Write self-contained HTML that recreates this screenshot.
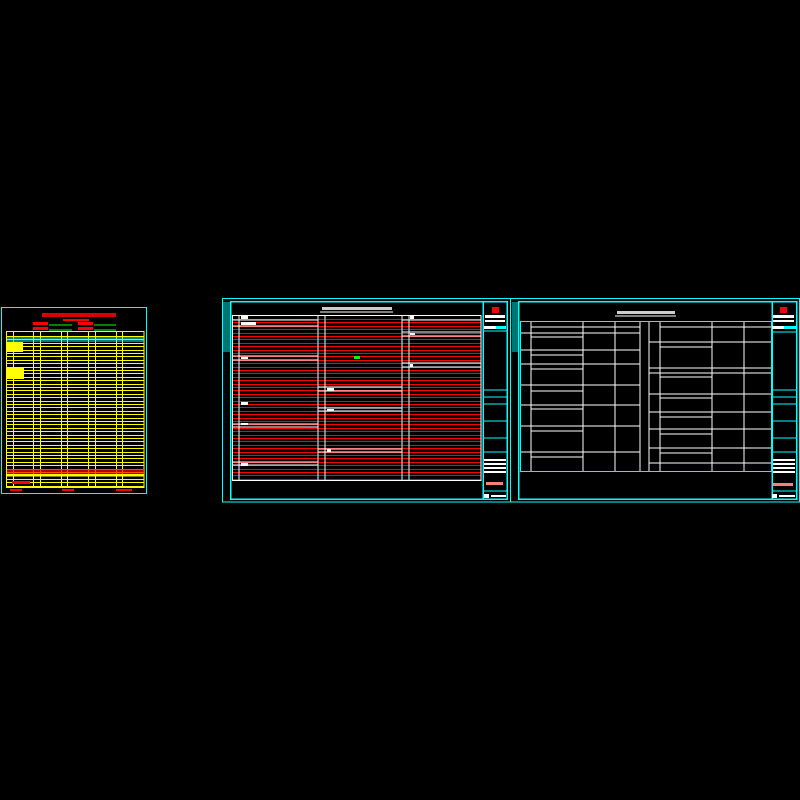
<!DOCTYPE html>
<html><head><meta charset="utf-8"><style>html,body{margin:0;padding:0;background:#000;}svg{display:block}</style></head>
<body>
<svg width="800" height="800" viewBox="0 0 800 800" xmlns="http://www.w3.org/2000/svg" shape-rendering="crispEdges">
<rect width="800" height="800" fill="#000"/>
<!-- LEFT SHEET -->
<rect x="1.5" y="307.5" width="145" height="186" fill="none" stroke="#00ffff" stroke-width="1"/>
<g fill="#ff0000">
<rect x="42" y="313" width="74" height="4" opacity="0.85"/>
<rect x="63" y="319" width="26" height="2"/>
<rect x="33" y="322" width="15" height="3"/><rect x="33" y="327" width="15" height="3"/>
<rect x="78" y="322" width="15" height="3"/><rect x="78" y="327" width="15" height="3"/>
</g>
<g stroke="#00ff00" stroke-width="0.7"><line x1="49" y1="325" x2="72" y2="325"/><line x1="49" y1="330" x2="72" y2="330"/><line x1="94" y1="325" x2="116" y2="325"/><line x1="94" y1="330" x2="116" y2="330"/></g>
<rect x="6.5" y="331.5" width="137.5" height="156" fill="none" stroke="#ffff00" stroke-width="1.2"/>
<g stroke="#ffff00" stroke-width="1" id="ylines"></g>
<rect x="7" y="337" width="137" height="5" fill="#00ffff" opacity="0.5"/>
<g fill="#ffff00"><rect x="7" y="342" width="16" height="10"/><rect x="7" y="367" width="17" height="12"/><rect x="7" y="474" width="137" height="2.5"/></g>
<rect x="7" y="469" width="137" height="5" fill="#ff0000" opacity="0.7"/>
<g fill="#ff0000"><rect x="12" y="481" width="18" height="3"/><rect x="10" y="489" width="12" height="2"/><rect x="62" y="489" width="12" height="2"/><rect x="116" y="489" width="16" height="2"/></g>
<!-- MIDDLE SHEET -->
<rect x="222.5" y="298.5" width="288" height="203.5" fill="none" stroke="#00ffff" stroke-width="1"/>
<rect x="230.5" y="301.5" width="276.5" height="197.5" fill="none" stroke="#00ffff" stroke-width="1.5"/>
<line x1="483" y1="301" x2="483" y2="499" stroke="#00ffff" stroke-width="1.5"/>
<rect x="223" y="302" width="7" height="50" fill="#00ffff" opacity="0.45"/>
<g fill="#fff"><rect x="322" y="307" width="70" height="3" opacity="0.8"/></g>
<line x1="320" y1="312" x2="393" y2="312" stroke="#fff" stroke-width="0.6"/>
<g id="redlines" stroke="#ff0000" stroke-width="1"></g>
<rect x="232.5" y="315.5" width="248.5" height="165" fill="none" stroke="#fff" stroke-width="0.8"/>
<g stroke="#fff" stroke-width="0.8">
<line x1="239" y1="315" x2="239" y2="481"/><line x1="318" y1="315" x2="318" y2="481" stroke-width="1.4"/><line x1="325" y1="315" x2="325" y2="481"/><line x1="402" y1="315" x2="402" y2="481"/><line x1="409" y1="315" x2="409" y2="481"/>
<line x1="232" y1="320" x2="318" y2="320"/><line x1="232" y1="326" x2="318" y2="326"/><line x1="402" y1="320" x2="481" y2="320"/>
<line x1="232" y1="356" x2="318" y2="356"/><line x1="232" y1="360" x2="318" y2="360"/>
<line x1="402" y1="332" x2="481" y2="332"/><line x1="402" y1="336" x2="481" y2="336"/>
<line x1="402" y1="363" x2="481" y2="363"/><line x1="402" y1="367" x2="481" y2="367"/>
<line x1="318" y1="387" x2="402" y2="387"/><line x1="318" y1="391" x2="402" y2="391"/>
<line x1="318" y1="408" x2="402" y2="408"/><line x1="318" y1="411" x2="402" y2="411"/>
<line x1="232" y1="424" x2="318" y2="424"/><line x1="232" y1="427" x2="318" y2="427"/>
<line x1="318" y1="449" x2="402" y2="449"/><line x1="318" y1="452" x2="402" y2="452"/>
<line x1="232" y1="462" x2="318" y2="462"/><line x1="232" y1="465" x2="318" y2="465"/>
</g>
<g fill="#fff"><rect x="241" y="316" width="7" height="3"/><rect x="241" y="322" width="15" height="3"/><rect x="241" y="357" width="7" height="2"/><rect x="241" y="402" width="7" height="3"/><rect x="241" y="423" width="7" height="2"/><rect x="241" y="463" width="7" height="3"/><rect x="410" y="316" width="4" height="3"/><rect x="410" y="333" width="5" height="2"/><rect x="410" y="364" width="3" height="3"/><rect x="327" y="388" width="7" height="3"/><rect x="327" y="409" width="7" height="2"/><rect x="327" y="449" width="4" height="3"/></g>
<rect x="354" y="356" width="6" height="3" fill="#00ff00"/>
<!-- middle title block -->
<rect x="492" y="307" width="7" height="6" fill="#ff0000"/>
<g fill="#fff"><rect x="485" y="315" width="20" height="3"/><rect x="485" y="320" width="20" height="2"/><rect x="484" y="326" width="12" height="3"/>
<rect x="484" y="459" width="22" height="2"/><rect x="484" y="463" width="22" height="2"/><rect x="484" y="467" width="22" height="2"/><rect x="484" y="471" width="22" height="2"/>
<rect x="484" y="494" width="5" height="4"/><rect x="491" y="495" width="15" height="2"/></g>
<rect x="496" y="326" width="10" height="3" fill="#00ffff"/>
<rect x="486" y="482" width="17" height="3" fill="#fa8072"/>
<g stroke="#00ffff" stroke-width="0.8"><line x1="483" y1="331" x2="507" y2="331"/><line x1="483" y1="390" x2="507" y2="390"/><line x1="483" y1="397" x2="507" y2="397"/><line x1="483" y1="404" x2="507" y2="404"/><line x1="483" y1="421" x2="507" y2="421"/><line x1="483" y1="438" x2="507" y2="438"/><line x1="483" y1="452" x2="507" y2="452"/><line x1="483" y1="491" x2="507" y2="491"/></g>
<!-- RIGHT SHEET -->
<rect x="510.5" y="298.5" width="289" height="203.5" fill="none" stroke="#00ffff" stroke-width="1"/>
<rect x="518.5" y="301.5" width="278" height="197.5" fill="none" stroke="#00ffff" stroke-width="1.5"/>
<line x1="772" y1="301" x2="772" y2="499" stroke="#00ffff" stroke-width="1.5"/>
<rect x="512" y="302" width="7" height="50" fill="#00ffff" opacity="0.45"/>
<rect x="617" y="311" width="58" height="3" fill="#fff" opacity="0.8"/>
<line x1="615" y1="316" x2="676" y2="316" stroke="#fff" stroke-width="0.6"/>
<rect x="520.5" y="321.5" width="251" height="150" fill="none" stroke="#00ffff" stroke-width="1"/>
<g stroke="#fff" stroke-width="0.8">
<line x1="531" y1="322" x2="531" y2="471"/><line x1="583" y1="322" x2="583" y2="471"/><line x1="615" y1="322" x2="615" y2="471"/><line x1="640" y1="322" x2="640" y2="471"/><line x1="649" y1="322" x2="649" y2="471"/><line x1="660" y1="322" x2="660" y2="471"/><line x1="712" y1="322" x2="712" y2="471"/><line x1="744" y1="322" x2="744" y2="471"/>
<line x1="531" y1="327" x2="640" y2="327"/><line x1="521" y1="333" x2="640" y2="333"/><line x1="531" y1="337" x2="583" y2="337"/><line x1="521" y1="350" x2="640" y2="350"/><line x1="531" y1="355" x2="583" y2="355"/><line x1="521" y1="364" x2="640" y2="364"/><line x1="531" y1="369" x2="583" y2="369"/><line x1="521" y1="385" x2="640" y2="385"/><line x1="531" y1="391" x2="583" y2="391"/><line x1="521" y1="405" x2="640" y2="405"/><line x1="531" y1="409" x2="583" y2="409"/><line x1="521" y1="426" x2="640" y2="426"/><line x1="531" y1="431" x2="583" y2="431"/><line x1="521" y1="452" x2="640" y2="452"/><line x1="531" y1="457" x2="583" y2="457"/>
<line x1="660" y1="327" x2="771" y2="327"/><line x1="649" y1="342" x2="771" y2="342"/><line x1="660" y1="347" x2="712" y2="347"/><line x1="649" y1="368" x2="771" y2="368"/><line x1="649" y1="373" x2="771" y2="373"/><line x1="660" y1="377" x2="712" y2="377"/><line x1="649" y1="394" x2="771" y2="394"/><line x1="660" y1="398" x2="712" y2="398"/><line x1="649" y1="412" x2="771" y2="412"/><line x1="660" y1="417" x2="712" y2="417"/><line x1="649" y1="429" x2="771" y2="429"/><line x1="660" y1="434" x2="712" y2="434"/><line x1="649" y1="448" x2="771" y2="448"/><line x1="660" y1="453" x2="712" y2="453"/><line x1="649" y1="463" x2="771" y2="463"/>
</g>
<rect x="780" y="307" width="7" height="6" fill="#ff0000"/>
<g fill="#fff"><rect x="773" y="315" width="21" height="3"/><rect x="773" y="320" width="21" height="2"/><rect x="772" y="326" width="12" height="3"/>
<rect x="773" y="459" width="22" height="2"/><rect x="773" y="463" width="22" height="2"/><rect x="773" y="467" width="22" height="2"/><rect x="773" y="471" width="22" height="2"/>
<rect x="772" y="494" width="5" height="4"/><rect x="779" y="495" width="16" height="2"/></g>
<rect x="784" y="326" width="12" height="3" fill="#00ffff"/>
<rect x="773" y="483" width="20" height="3" fill="#fa8072"/>
<g stroke="#00ffff" stroke-width="0.8"><line x1="772" y1="332" x2="796" y2="332"/><line x1="772" y1="390" x2="796" y2="390"/><line x1="772" y1="397" x2="796" y2="397"/><line x1="772" y1="404" x2="796" y2="404"/><line x1="772" y1="421" x2="796" y2="421"/><line x1="772" y1="438" x2="796" y2="438"/><line x1="772" y1="452" x2="796" y2="452"/><line x1="772" y1="491" x2="796" y2="491"/></g>
</svg>
<script>
(function(){
var ns="http://www.w3.org/2000/svg";
var y=document.getElementById("ylines");
var xs=[13,33,40,61,67,88,95,116,122];
xs.forEach(function(x){var l=document.createElementNS(ns,"line");l.setAttribute("x1",x+0.5);l.setAttribute("x2",x+0.5);l.setAttribute("y1",332);l.setAttribute("y2",487);y.appendChild(l);});
for(var v=336;v<=486;v+=3.4){var p=Math.round(v)+0.5;var l=document.createElementNS(ns,"line");l.setAttribute("x1",7);l.setAttribute("x2",144);l.setAttribute("y1",p);l.setAttribute("y2",p);y.appendChild(l);}
var r=document.getElementById("redlines");
for(var v=319;v<=479;v+=3.4){var p=Math.round(v)+0.5;var l=document.createElementNS(ns,"line");l.setAttribute("x1",233);l.setAttribute("x2",481);l.setAttribute("y1",p);l.setAttribute("y2",p);r.appendChild(l);}
})();
</script>
</body></html>
